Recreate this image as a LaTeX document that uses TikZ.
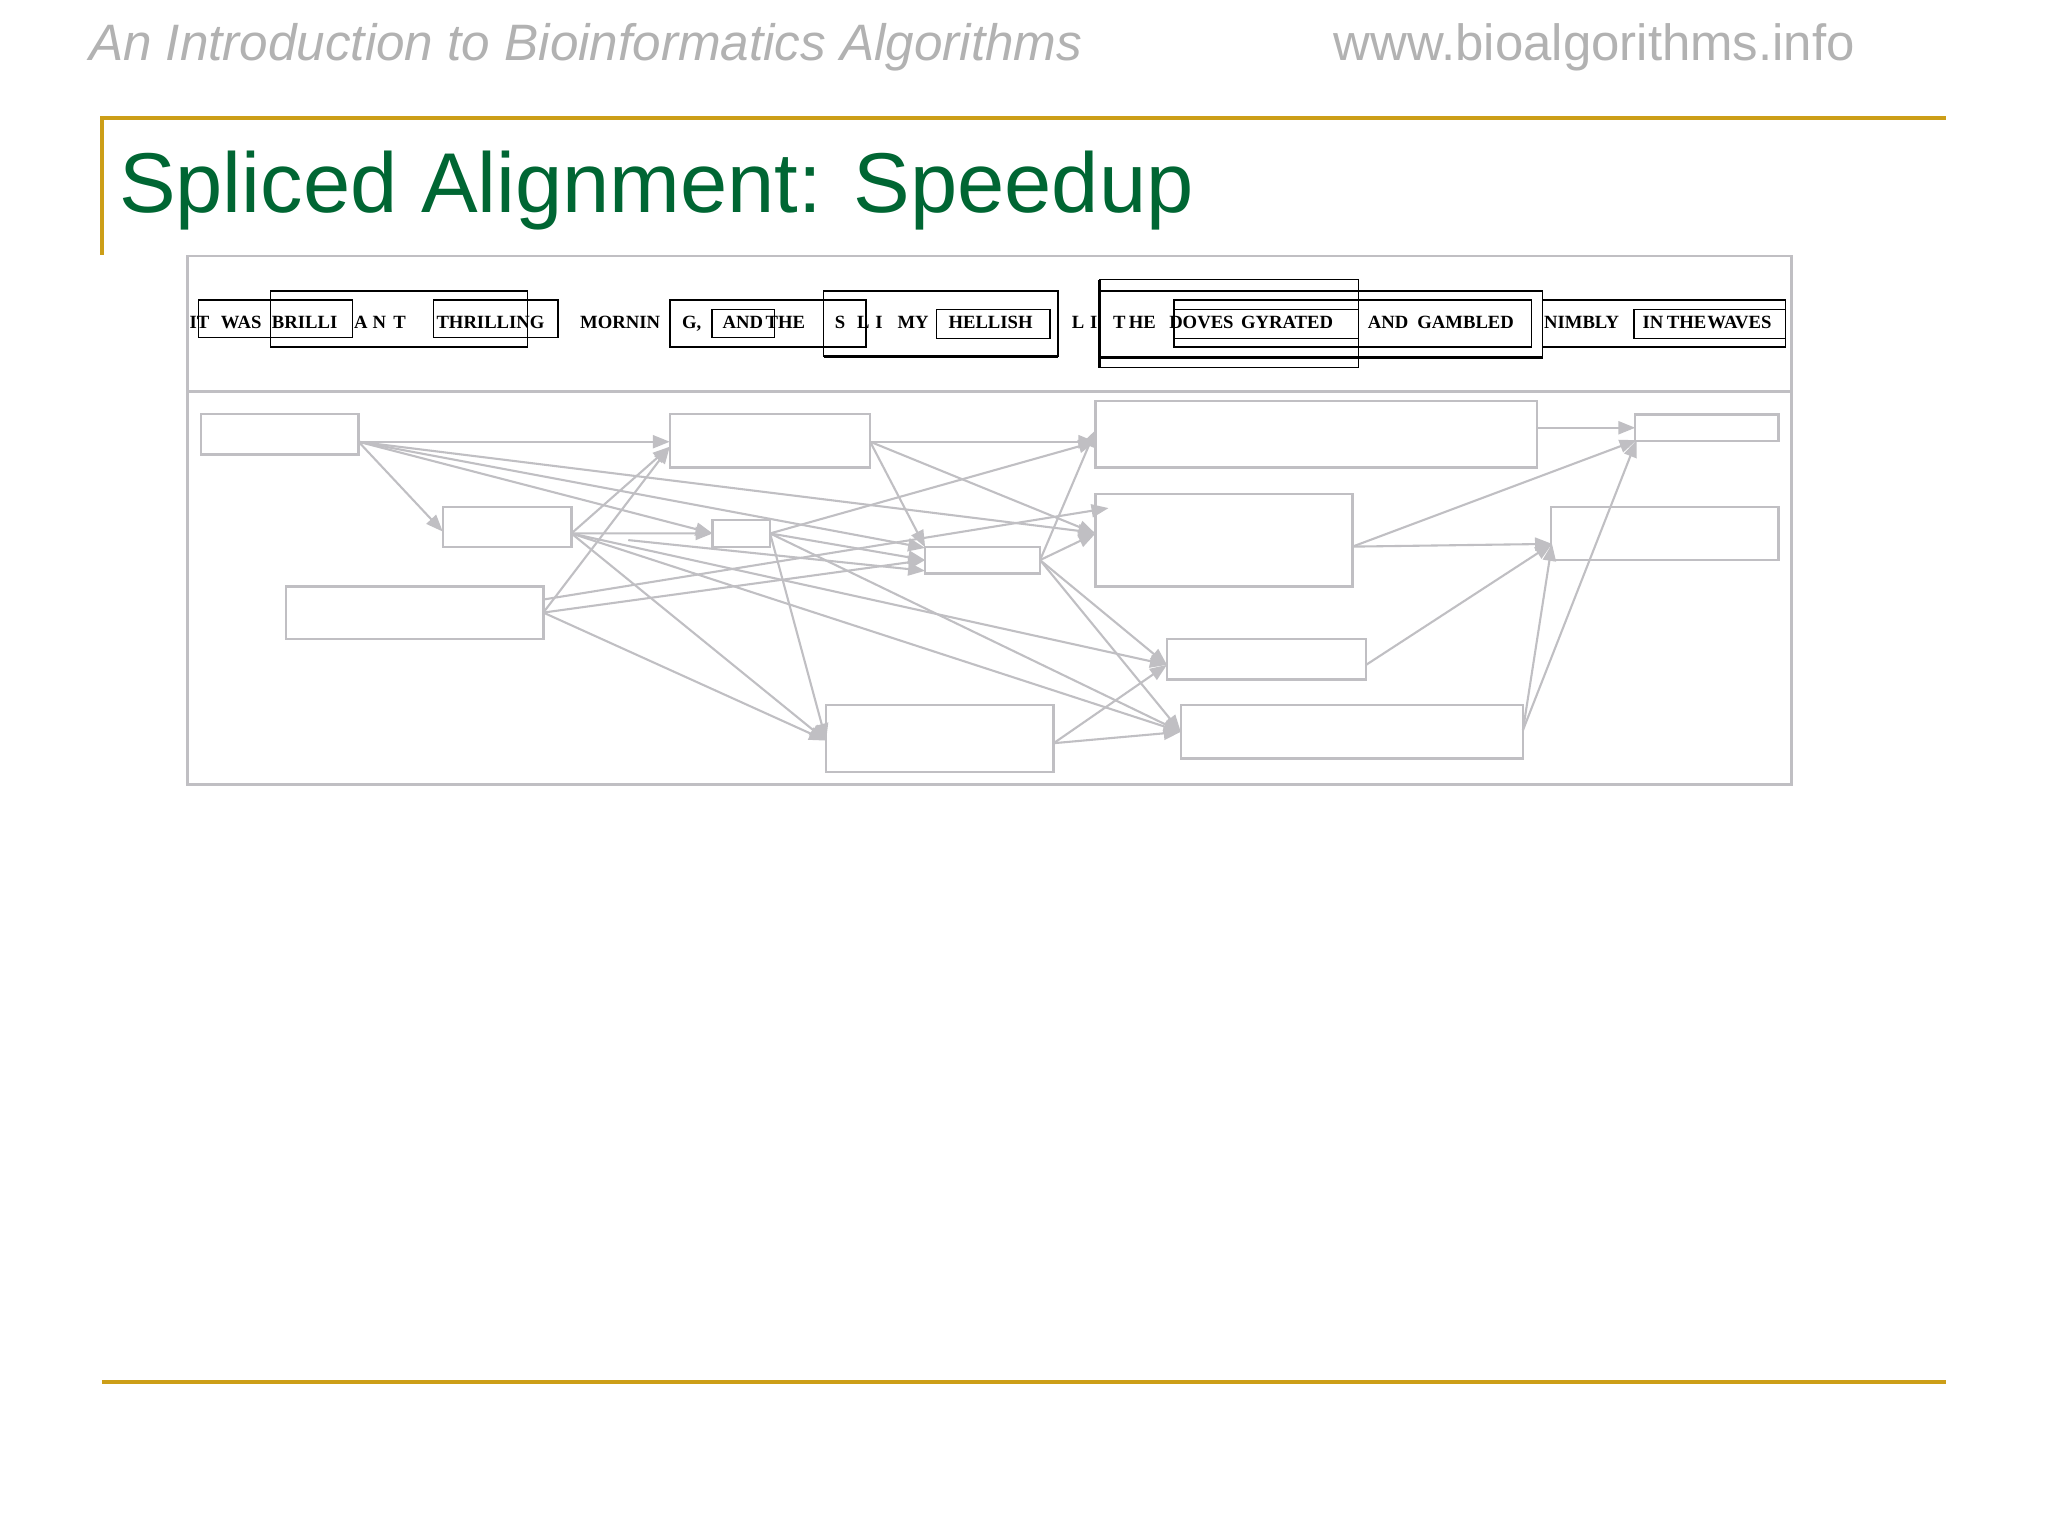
\documentclass[tikz,border=0pt]{standalone}
\usepackage{fontspec}
\setmainfont{Liberation Sans}
\newfontfamily\wordfont{Liberation Serif}
\usetikzlibrary{arrows.meta,calc}
\definecolor{hdrgray}{RGB}{178,178,178}
\definecolor{titlegreen}{RGB}{0,102,51}
\definecolor{goldline}{RGB}{204,158,24}
\definecolor{boxgray}{RGB}{192,191,195}
\tikzset{
  gbox/.style 2 args={draw=boxgray, line width=1.8pt, rectangle, inner sep=0pt, outer sep=0pt, minimum width=#1pt, minimum height=#2pt},
  conn/.style={draw=boxgray, line width=1.6pt, -{Triangle[length=13pt,width=10pt]}},
  word/.style={anchor=base west, inner sep=0pt, font=\wordfont\bfseries\fontsize{14.3}{15}\selectfont},
  wbox/.style={draw=black, line width=1.2pt},
  hdr/.style={anchor=base west, inner sep=0pt, text=hdrgray, font=\fontsize{39}{40}\selectfont}
}
\begin{document}
\begin{tikzpicture}[x=1pt,y=-1pt]
\fill[white] (0,0) rectangle (1568,1176);
\useasboundingbox (0,0) rectangle (1568,1176);

% header
\node[hdr, font=\fontsize{39.2}{40}\selectfont\itshape] (hdrL) at (68,46) {An Introduction to Bioinformatics Algorithms};
\node[hdr] (hdrR) at (1021,46) {www.bioalgorithms.info};

% gold rules
\draw[goldline, line width=3pt] (78,195) -- (78,90) -- (1490,90);
\draw[goldline, line width=3pt] (78,1058) -- (1490,1058);

% title
\node[anchor=base west, inner sep=0pt, text=titlegreen, font=\fontsize{65}{70}\selectfont] (title) at (91,163) {Spliced Alignment: Speedup};

% frame
\draw[boxgray, line width=2pt] (143.5,196) rectangle (1371.5,600.5);
\draw[boxgray, line width=2pt] (143.5,299.5) -- (1371.5,299.5);

% top row: boxes
\draw[wbox] (152,229.5) rectangle (270,258.5);
\draw[wbox] (207,223) rectangle (404,265.5);
\draw[wbox] (332,229.5) rectangle (427,258.5);
\draw[wbox] (513,229.5) rectangle (663,265.5);
\draw[wbox] (545,237) rectangle (593,258.5);
\draw[wbox] (630.5,223) rectangle (810,273);
\draw[black, line width=2.6pt] (630.5,273) -- (810,273);
\draw[wbox] (717,237) rectangle (804,259);
\draw[wbox] (842,214) rectangle (1040,281.5);
\draw[wbox] (842,223) rectangle (1181,273.5);
\draw[black, line width=2.6pt] (842,273.5) -- (1181,273.5);
\draw[black, line width=2.4pt] (842,214) -- (842,281.5);
\draw[wbox] (899,229.5) rectangle (1172.5,265.5);
\draw[wbox] (899,237) rectangle (1040,259);
\draw[wbox] (1181,229.5) rectangle (1367,265.5);
\draw[wbox] (1251,237) rectangle (1367,259);

% top row: words
\node[word] (w1) at (145,251.5) {IT};
\node[word] (w2) at (169,251.5) {WAS};
\node[word] (w3) at (208,251.5) {BRILLI};
\node[word] (w4) at (271,251.5) {A};
\node[word] (w5) at (285,251.5) {N};
\node[word] (w6) at (301,251.5) {T};
\node[word] (w7) at (334,251.5) {THRILLING};
\node[word] (w8) at (444,251.5) {MORNIN};
\node[word] (w9) at (522,251.5) {G,};
\node[word] (w10) at (553,251.5) {AND};
\node[word] (w11) at (586,251.5) {THE};
\node[word] (w12) at (639,251.5) {S};
\node[word] (w13) at (656,251.5) {L};
\node[word] (w14) at (670,251.5) {I};
\node[word] (w15) at (687,251.5) {MY};
\node[word] (w16) at (726,251.5) {HELLISH};
\node[word] (w17) at (820.5,251.5) {L};
\node[word] (w18) at (834.5,251.5) {I};
\node[word] (w19) at (852,251.5) {T};
\node[word] (w20) at (864,251.5) {HE};
\node[word] (w21) at (895,251.5) {DOVES};
\node[word] (w22) at (950,251.5) {GYRATED};
\node[word] (w23) at (1047,251.5) {AND};
\node[word] (w24) at (1085,251.5) {GAMBLED};
\node[word] (w25) at (1182,251.5) {NIMBLY};
\node[word] (w26) at (1257.5,251.5) {IN};
\node[word] (w27) at (1276,251.5) {THE};
\node[word] (w28) at (1307,251.5) {WAVES};

% graph nodes
\node[gbox={120.5}{31}] (A) at (214.25,332.5) {};
\node[gbox={98.5}{30.6}] (B) at (388.25,403.3) {};
\node[gbox={197}{40}] (C) at (317.5,469) {};
\node[gbox={44}{20.4}] (D) at (567.6,408.4) {};
\node[gbox={153.4}{41}] (E) at (589.5,337.5) {};
\node[gbox={174.2}{51}] (F) at (719.6,565.5) {};
\node[gbox={88}{20.4}] (G) at (752.3,428.8) {};
\node[gbox={338}{51}] (H) at (1007.7,332.5) {};
\node[gbox={196.8}{71}] (I) at (937.1,413.5) {};
\node[gbox={152.5}{30.7}] (J) at (969.7,504.8) {};
\node[gbox={262}{40.6}] (K) at (1035,560.3) {};
\node[gbox={109.6}{20.4}] (L) at (1306.8,327.5) {};
\node[gbox={174.3}{40.8}] (M) at (1274.4,408.4) {};
\coordinate (free) at (481,413.5);

% connectors
\draw[conn] ($(A.east)+(0,5.7)$) -- ($(E.west)+(0,0.7)$);
\draw[conn] ($(A.east)+(0,5.7)$) -- ($(B.west)+(0,3.7)$);
\draw[conn] ($(A.east)+(0,5.7)$) -- (D.west);
\draw[conn] ($(A.east)+(0,5.7)$) -- ($(G.west)+(0,-9.3)$);
\draw[conn] ($(A.east)+(0,5.7)$) -- ($(I.west)+(0,-5.5)$);

\draw[conn] ($(B.east)+(0,5.1)$) -- (D.west);
\draw[conn] ($(B.east)+(0,5.1)$) -- ($(E.west)+(0,4.5)$);
\draw[conn] ($(B.east)+(0,5.1)$) -- ($(J.west)+(0,4.2)$);
\draw[conn] ($(B.east)+(0,5.1)$) -- (K.west);
\draw[conn] ($(B.east)+(0,5.1)$) -- ($(F.west)+(0,1.5)$);

\draw[conn] (C.east) -- ($(E.west)+(0,4.5)$);
\draw[conn] ($(C.east)+(0,-10)$) -- ($(I.west)+(10,-24.5)$);
\draw[conn] (C.east) -- (G.west);
\draw[conn] (C.east) -- ($(F.west)+(0,1.5)$);

\draw[conn] (free) -- ($(G.west)+(0,8.2)$);

\draw[conn] (D.east) -- ($(H.west)+(0,5.7)$);
\draw[conn] (D.east) -- ($(F.west)+(0,1.5)$);
\draw[conn] (D.east) -- (K.west);
\draw[conn] (D.east) -- (G.west);

\draw[conn] ($(E.east)+(0,0.7)$) -- ($(H.west)+(0,5.7)$);
\draw[conn] ($(E.east)+(0,0.7)$) -- ($(I.west)+(0,-5)$);
\draw[conn] ($(E.east)+(0,0.7)$) -- ($(G.west)+(0,-9.8)$);

\draw[conn] (G.east) -- ($(H.west)+(0,-3.3)$);
\draw[conn] (G.east) -- ($(I.west)+(0,-5)$);
\draw[conn] (G.east) -- ($(J.west)+(0,4.2)$);
\draw[conn] (G.east) -- (K.west);

\draw[conn] ($(F.east)+(0,3.5)$) -- ($(J.west)+(0,4.2)$);
\draw[conn] ($(F.east)+(0,3.5)$) -- (K.west);

\draw[conn] ($(H.east)+(0,-5)$) -- (L.west);
\draw[conn] ($(I.east)+(0,5)$) -- ($(L.west)+(1,9.5)$);
\draw[conn] ($(I.east)+(0,5)$) -- ($(M.west)+(1,8)$);
\draw[conn] ($(J.east)+(0,4.2)$) -- ($(M.west)+(1,8)$);
\draw[conn] ($(K.east)+(0,-1.3)$) -- ($(M.west)+(1,8)$);
\draw[conn] ($(K.east)+(0,-1.3)$) -- ($(L.west)+(1,9.5)$);
\end{tikzpicture}
\end{document}
